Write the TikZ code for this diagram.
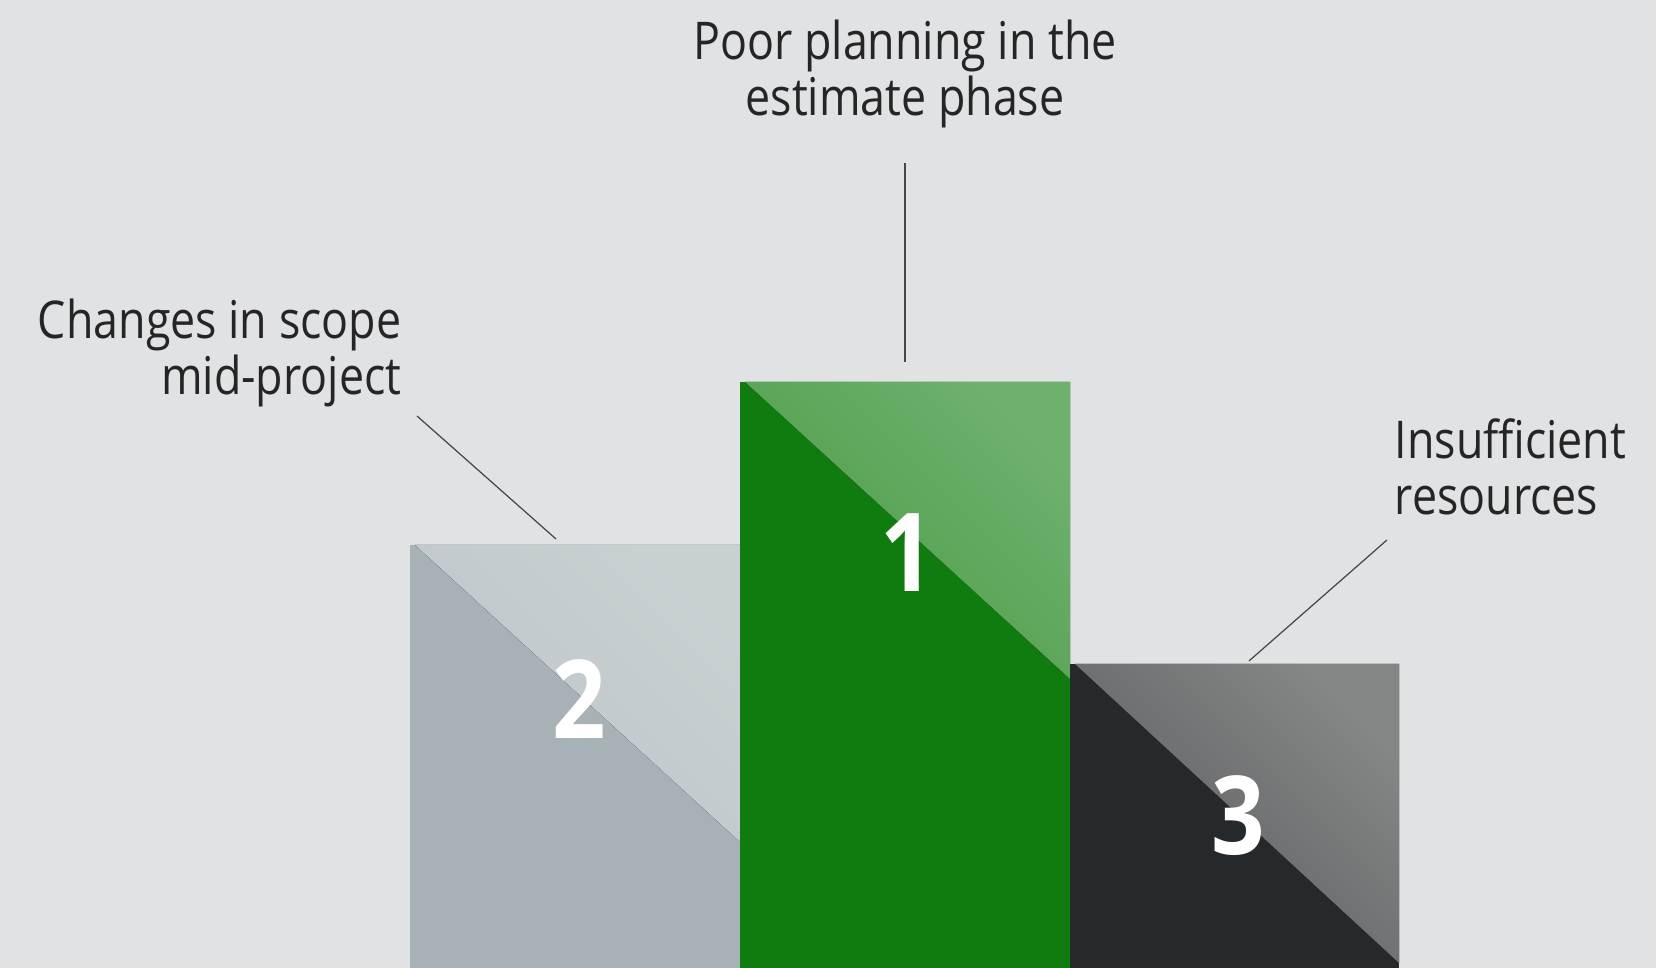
\documentclass[tikz,border=0pt]{standalone}
\usepackage{fontspec}
\setmainfont{Open Sans}[FakeStretch=0.86]
\usetikzlibrary{positioning}

\definecolor{bgcol}{HTML}{E1E2E4}
\definecolor{txtcol}{HTML}{252526}
\definecolor{greyDark}{HTML}{A7B2B6}
\definecolor{greyLo}{HTML}{BBC5C8}
\definecolor{greyHi}{HTML}{C9D0D2}
\definecolor{greenDark}{HTML}{107C10}
\definecolor{greenLo}{HTML}{4A9B46}
\definecolor{greenHi}{HTML}{6EB16D}
\definecolor{coalDark}{HTML}{25292B}
\definecolor{coalLo}{HTML}{5A5C5E}
\definecolor{coalHi}{HTML}{858686}

\tikzset{
  caption/.style={inner sep=0pt, text=txtcol, font=\fontsize{14.8}{15.9}\selectfont},
  rank/.style={inner sep=0pt, text=white, font=\fontsize{31}{31}\selectfont\bfseries},
  leader/.style={draw=txtcol!85, line width=0.35pt},
  sheen/.style 2 args={left color=#1, right color=#2, shading angle=135}
}

\begin{document}
\begin{tikzpicture}[x=0.01cm,y=-0.01cm]
% background
\fill[bgcol] (0,0) rectangle (1656,968);
\useasboundingbox (0,0) rectangle (1656,968);

% second place
\fill[greyDark] (410,545) rectangle (740,968);
\fill[sheen={greyLo}{greyHi}] (415,545) -- (740,545) -- (740,842) -- cycle;
\node[rank] (two) at (579,699) {2};

% first place
\fill[greenDark] (740,382) rectangle (1070,968);
\fill[sheen={greenLo}{greenHi}] (745,382) -- (1070,382) -- (1070,679) -- cycle;
\node[rank] (one) at (907,553) {1};

% third place
\fill[coalDark] (1070,664) rectangle (1399,968);
\fill[sheen={coalLo}{coalHi}] (1075,664) -- (1399,664) -- (1399,963) -- cycle;
\node[rank] (three) at (1238,816) {3};

% labels
\node[caption, anchor=north, align=center] (poor) at (905,19) {Poor planning in the\\estimate phase};
\node[caption, anchor=north east, align=right] (scope) at (402,298) {Changes in scope\\mid-project};
\node[caption, anchor=north west, align=left] (res) at (1394,418) {Insufficient\\resources};

% leader lines
\coordinate (poorA) at (905,163);
\coordinate (poorB) at (905,362);
\coordinate (scopeA) at (417,416);
\coordinate (scopeB) at (556,539);
\coordinate (resA) at (1387,540);
\coordinate (resB) at (1249,661);
\draw[leader] (poorA) -- (poorB);
\draw[leader] (scopeA) -- (scopeB);
\draw[leader] (resA) -- (resB);
\end{tikzpicture}
\end{document}
